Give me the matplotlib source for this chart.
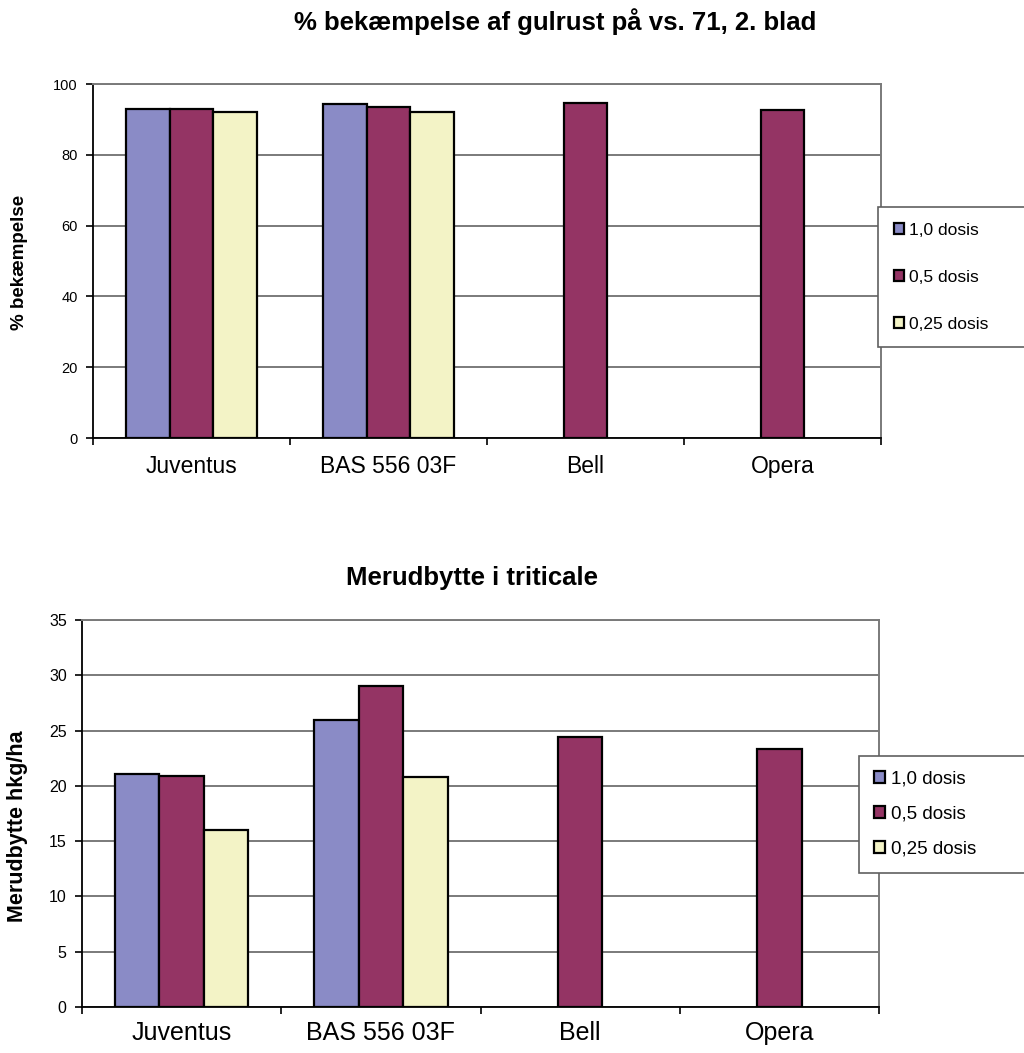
import numpy as np
import matplotlib
matplotlib.use("Agg")
import matplotlib.pyplot as plt

plt.rcParams['font.family'] = ['Liberation Sans', 'DejaVu Sans']

categories = ["Juventus", "BAS 556 03F", "Bell", "Opera"]
series_names = ["1,0 dosis", "0,5 dosis", "0,25 dosis"]

# Top chart: % bekæmpelse
top_d10 = [92.8, 94.4, np.nan, np.nan]
top_d05 = [92.8, 93.4, 94.7, 92.7]
top_d025 = [92.0, 92.0, np.nan, np.nan]

# Bottom chart: Merudbytte hkg/ha
bot_d10 = [21.1, 26.0, np.nan, np.nan]
bot_d05 = [20.9, 29.0, 24.4, 23.3]
bot_d025 = [16.0, 20.8, np.nan, np.nan]

top_ticks = [0, 20, 40, 60, 80, 100]
bot_ticks = [0, 5, 10, 15, 20, 25, 30, 35]

colors = ["#8a8bc6", "#943464", "#f3f3c6"]

W, H = 1024, 1053
fig = plt.figure(figsize=(W / 100, H / 100), dpi=100)


def ax_rect(l, t, r, b):
    return [l / W, 1 - b / H, (r - l) / W, (b - t) / H]


def draw(ax, series, ticks, xfs, yfs):
    x = np.arange(len(categories))
    w = 0.223
    offsets = [-w, 0, w]
    handles = []
    for vals, off, c, name in zip(series, offsets, colors, series_names):
        h = ax.bar(x + off, vals, width=w, color=c, edgecolor="black",
                   linewidth=1.6, label=name, zorder=3)
        handles.append(h)
    ax.set_xlim(-0.5, len(categories) - 0.5)
    ax.set_ylim(ticks[0], ticks[-1])
    ax.set_yticks(ticks)
    ax.set_yticklabels([str(t) for t in ticks], fontsize=yfs)
    ax.yaxis.grid(True, color="#7a7a7a", linewidth=1.4, zorder=0)
    ax.set_axisbelow(True)
    ax.set_xticks(x)
    ax.set_xticklabels(categories, fontsize=xfs)
    ax.tick_params(axis="x", which="major", length=0, pad=10)
    ax.set_xticks(np.arange(-0.5, len(categories), 1.0), minor=True)
    ax.tick_params(axis="x", which="minor", length=5, width=1.2, direction="out", color="black")
    ax.tick_params(axis="y", length=5, width=1.2, direction="out", color="black", pad=6)
    for s in ["left", "bottom"]:
        ax.spines[s].set_color("black")
        ax.spines[s].set_linewidth(1.3)
    ax.spines["top"].set_color("#7a7a7a")
    ax.spines["top"].set_linewidth(1.4)
    ax.spines["right"].set_color("#7a7a7a")
    ax.spines["right"].set_linewidth(1.4)
    return handles


ax1 = fig.add_axes(ax_rect(93, 84, 881, 438))
h1 = draw(ax1, [top_d10, top_d05, top_d025], top_ticks, 16.5, 10.5)
ax1.xaxis.set_tick_params(pad=12)

ax2 = fig.add_axes(ax_rect(82, 620, 879, 1007))
h2 = draw(ax2, [bot_d10, bot_d05, bot_d025], bot_ticks, 18, 11.5)
ax2.xaxis.set_tick_params(pad=10)

fig.text(555 / W, 1 - 22 / H, "% bekæmpelse af gulrust på vs. 71, 2. blad",
         ha="center", va="center", fontsize=18.5, fontweight="bold")
fig.text(472 / W, 1 - 578 / H, "Merudbytte i triticale",
         ha="center", va="center", fontsize=18.5, fontweight="bold")
fig.text(20 / W, 1 - 262 / H, "% bekæmpelse", rotation=90,
         ha="center", va="center", fontsize=13.5, fontweight="bold")
fig.text(18 / W, 1 - 826 / H, "Merudbytte hkg/ha", rotation=90,
         ha="center", va="center", fontsize=15.5, fontweight="bold")

leg1 = fig.legend(handles=h1, labels=series_names, loc="upper left",
                  bbox_to_anchor=(878 / W, 1 - 208 / H, 0.25, 0.001),
                  mode="expand",
                  fontsize=12.5, frameon=True, fancybox=False,
                  edgecolor="#606060", framealpha=1, borderaxespad=0,
                  handlelength=0.6, handleheight=0.6, handletextpad=0.3,
                  labelspacing=1.85, borderpad=0.9)
leg1.get_frame().set_linewidth(1.2)

leg2 = fig.legend(handles=h2, labels=series_names, loc="upper left",
                  bbox_to_anchor=(859 / W, 1 - 757 / H, 0.25, 0.001),
                  mode="expand",
                  fontsize=13.5, frameon=True, fancybox=False,
                  edgecolor="#606060", framealpha=1, borderaxespad=0,
                  handlelength=0.6, handleheight=0.6, handletextpad=0.3,
                  labelspacing=0.95, borderpad=0.8)
leg2.get_frame().set_linewidth(1.2)

fig.savefig("out.png", dpi=100)
